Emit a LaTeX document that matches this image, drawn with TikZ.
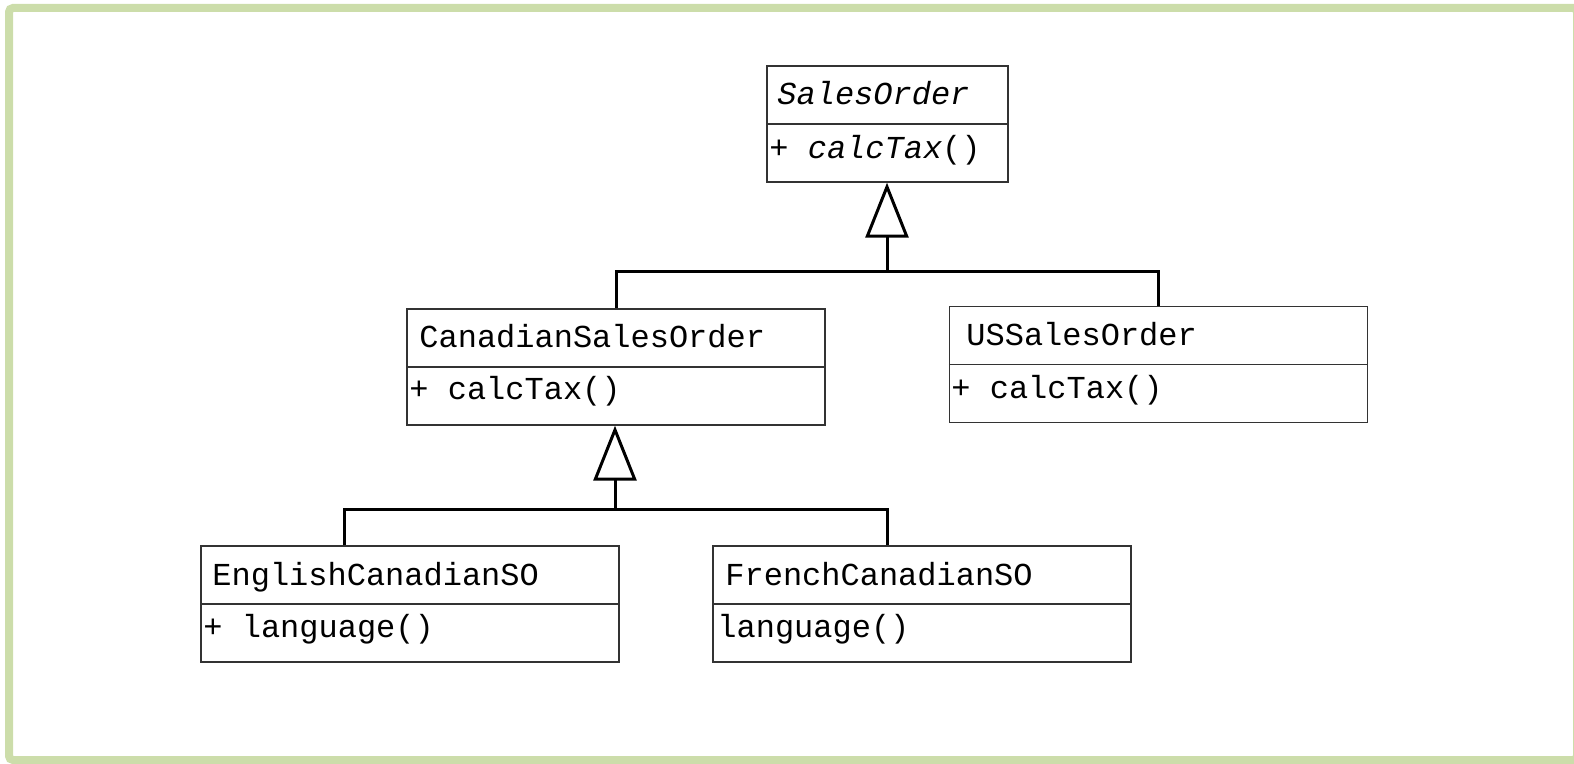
\documentclass[tikz,border=0pt]{standalone}
\usepackage{fontspec}
\setmonofont{Liberation Mono}
\usetikzlibrary{arrows.meta}

\definecolor{framegreen}{RGB}{204,221,170}
\tikzset{
  classbox/.style={draw=black!80, line width=0.7pt, rectangle, inner sep=0pt,
    minimum width=209pt, minimum height=58pt},
  classline/.style={draw=black!80, line width=0.7pt},
  classtext/.style={anchor=base west, inner sep=0pt, font=\ttfamily\fontsize{16}{19}\selectfont},
  conn/.style={line width=1.5pt, black},
  generalize/.style={conn, -{Triangle[open, length=27.5pt, width=21.5pt, line width=1.5pt]}},
}

\begin{document}
\begin{tikzpicture}[x=0.5pt,y=0.5pt,yscale=-1,xscale=1]
\useasboundingbox (0,0) rectangle (1574,764);

% Frame
\draw [color=framegreen, line width=4pt, rounded corners=2pt] (9,8) rectangle (1577,760);

% Class boxes
\node [classbox, minimum width=120.5pt] (so) at (887.5,124) {};
\node [classbox] (cso) at (616,367) {};
\node [classbox] (usso) at (1158.5,364.5) {};
\node [classbox] (ecso) at (410,604) {};
\node [classbox] (fcso) at (922,604) {};

% Compartment lines
\draw [classline] (so.west) -- (so.east);
\draw [classline] (cso.west) -- (cso.east);
\draw [classline] (usso.west) -- (usso.east);
\draw [classline] (ecso.west) -- (ecso.east);
\draw [classline] (fcso.west) -- (fcso.east);

% Text Node
\node [classtext] (soname) at (777,105) {\itshape SalesOrder};
\node [classtext] (soop) at (769,159) {+ \textit{calcTax}()};
% Text Node
\node [classtext] (csoname) at (419,348) {CanadianSalesOrder};
\node [classtext] (csoop) at (409,400) {+ calcTax()};
% Text Node
\node [classtext] (ussoname) at (966,346) {USSalesOrder};
\node [classtext] (ussoop) at (951,399) {+ calcTax()};
% Text Node
\node [classtext] (ecsoname) at (212,585) {EnglishCanadianSO};
\node [classtext] (ecsoop) at (203,637) {+ language()};
% Text Node
\node [classtext] (fcsoname) at (725,585) {FrenchCanadianSO};
\node [classtext] (fcsoop) at (717,637) {language()};

% Generalization lines
\coordinate (joinA) at (887,272);
\draw [generalize] (cso.north) |- (joinA) -- (so.south -| joinA);
\draw [conn] (usso.north) |- (joinA);

\coordinate (joinB) at (615,509);
\draw [generalize] ([xshift=-33pt]ecso.north) |- (joinB) -- (cso.south -| joinB);
\draw [conn] ([xshift=-17.5pt]fcso.north) |- (joinB);

\end{tikzpicture}
\end{document}
